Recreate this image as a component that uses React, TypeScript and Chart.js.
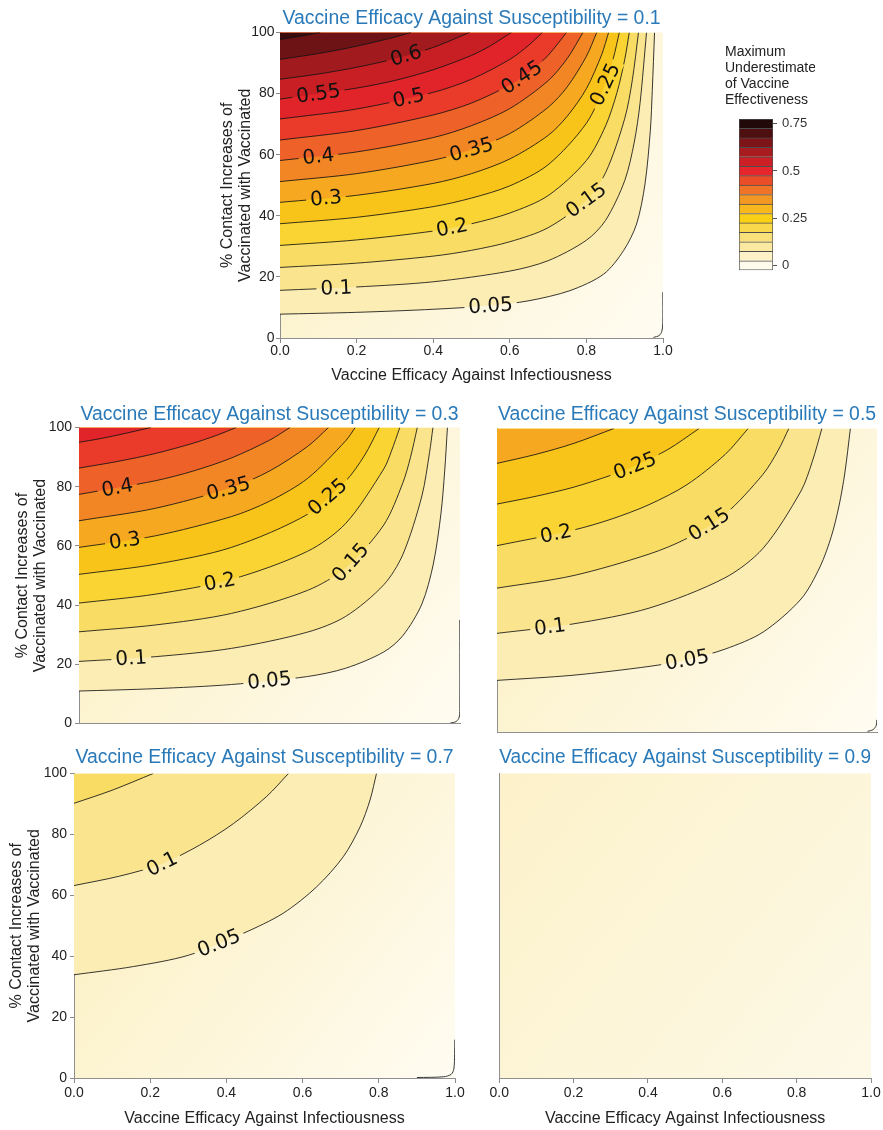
import React, { useEffect, useRef } from "react";
import { Chart, registerables } from "chart.js";

Chart.register(...registerables);
Chart.defaults.font.family = '"Liberation Sans", Arial, sans-serif';

type P = [number, number];
type Lab = [number, number, number];

// ---------- Panel: Vaccine Efficacy Against Susceptibility = 0.1 ----------
const levelsS1 = [0.05, 0.1, 0.15, 0.2, 0.25, 0.3, 0.35, 0.4, 0.45, 0.5, 0.55, 0.6, 0.65, 0.7];
const contoursS1: P[][] = [
  [[0, 7.8], [0.2, 8.4], [0.4, 9.4], [0.55, 10.6], [0.65, 12.2], [0.757, 15.5], [0.845, 20.9], [0.897, 28.6], [0.931, 37.3], [0.953, 50.4], [0.967, 68], [0.972, 81], [0.978, 100]],
  [[0, 15.6], [0.2, 16.7], [0.4, 18.4], [0.6, 21.9], [0.7, 25.3], [0.8, 32.0], [0.85, 38.5], [0.9, 51.5], [0.925, 64.1], [0.94, 76.8], [0.957, 100]],
  [[0, 23.1], [0.2, 24.5], [0.4, 26.8], [0.5, 28.7], [0.6, 31.5], [0.7, 36.1], [0.8, 45.2], [0.85, 54.1], [0.9, 71.8], [0.92, 84.5], [0.936, 100]],
  [[0, 30.3], [0.2, 32.1], [0.4, 35.0], [0.5, 37.4], [0.6, 40.9], [0.7, 46.6], [0.8, 58.1], [0.85, 69.4], [0.88, 80.4], [0.9, 91.1], [0.912, 100]],
  [[0, 37.4], [0.2, 39.5], [0.4, 43.0], [0.5, 45.8], [0.6, 49.8], [0.7, 56.7], [0.8, 70.3], [0.85, 83.4], [0.87, 91.4], [0.886, 100]],
  [[0, 44.4], [0.2, 46.7], [0.4, 50.6], [0.5, 53.8], [0.6, 58.6], [0.7, 66.3], [0.75, 72.6], [0.8, 81.6], [0.84, 92.8], [0.858, 100]],
  [[0, 51.2], [0.2, 53.8], [0.4, 58.2], [0.5, 61.7], [0.6, 66.9], [0.7, 75.5], [0.75, 82.2], [0.8, 92.2], [0.827, 100]],
  [[0, 58.1], [0.2, 60.9], [0.4, 65.6], [0.5, 69.5], [0.6, 75.1], [0.7, 84.2], [0.75, 91.5], [0.791, 100]],
  [[0, 64.8], [0.2, 67.9], [0.4, 73.0], [0.5, 76.9], [0.6, 82.8], [0.65, 86.9], [0.7, 92.5], [0.748, 100]],
  [[0, 71.7], [0.2, 74.95], [0.4, 80.4], [0.5, 84.7], [0.6, 91.2], [0.65, 95.9], [0.685, 100]],
  [[0, 78.2], [0.2, 81.8], [0.3, 84.3], [0.4, 87.8], [0.5, 92.5], [0.55, 95.7], [0.604, 100]],
  [[0, 84.7], [0.1, 86.4], [0.2, 88.6], [0.3, 91.4], [0.4, 95.1], [0.495, 100]],
  [[0, 91.2], [0.1, 93.1], [0.2, 95.5], [0.3, 98.5], [0.342, 100]],
  [[0, 97.7], [0.05, 98.7], [0.105, 100]],
];
const labelsS1: Lab[] = [
  [0.05, 0.55, 10.6], [0.1, 0.147, 16.2], [0.15, 0.8, 45.0], [0.2, 0.45, 35.6], [0.25, 0.848, 83],
  [0.3, 0.12, 45.8], [0.35, 0.5, 61.5], [0.4, 0.1, 60], [0.45, 0.63, 85.5], [0.5, 0.335, 79],
  [0.55, 0.1, 80.5], [0.6, 0.33, 92],
];
const edgeS1: P[] = [[0.975, 0.2], [0.99, 0.8], [0.997, 2.2], [0.9995, 5], [0.9995, 15]];

// ---------- Panel: Susceptibility = 0.3 ----------
const levelsS3 = [0.05, 0.1, 0.15, 0.2, 0.25, 0.3, 0.35, 0.4, 0.45, 0.5];
const contoursS3: P[][] = [
  [[0, 11.0], [0.2, 11.8], [0.4, 13.2], [0.6, 15.9], [0.7, 18.7], [0.8, 24.2], [0.85, 29.7], [0.9, 40.4], [0.93, 53.9], [0.95, 70.9], [0.96, 85.6], [0.967, 100]],
  [[0, 21.0], [0.2, 22.6], [0.4, 25.4], [0.6, 30.9], [0.7, 36.2], [0.8, 46.9], [0.85, 57.1], [0.9, 76.9], [0.92, 91.5], [0.929, 100]],
  [[0, 31.0], [0.2, 33.3], [0.4, 37.2], [0.6, 45.0], [0.7, 52.6], [0.8, 67.1], [0.85, 81.3], [0.87, 89.9], [0.888, 100]],
  [[0, 40.7], [0.2, 43.7], [0.4, 48.7], [0.6, 58.2], [0.7, 67.6], [0.8, 86.0], [0.82, 92.0], [0.842, 100]],
  [[0, 50.4], [0.2, 53.8], [0.4, 59.5], [0.6, 70.7], [0.7, 81.9], [0.75, 90.7], [0.788, 100]],
  [[0, 59.5], [0.2, 63.4], [0.4, 69.9], [0.5, 75.1], [0.6, 82.8], [0.7, 95.5], [0.725, 100]],
  [[0, 68.5], [0.2, 72.7], [0.4, 79.7], [0.5, 85.3], [0.6, 93.6], [0.655, 100]],
  [[0, 77.4], [0.2, 82.0], [0.3, 85.3], [0.4, 89.7], [0.5, 95.7], [0.554, 100]],
  [[0, 86.3], [0.1, 88.5], [0.2, 91.2], [0.3, 94.7], [0.36, 97.3], [0.413, 100]],
  [[0, 95.0], [0.05, 96.1], [0.1, 97.4], [0.189, 100]],
];
const labelsS3: Lab[] = [
  [0.05, 0.5, 14.2], [0.1, 0.137, 22.3], [0.15, 0.72, 53.5], [0.2, 0.37, 47.5], [0.25, 0.663, 75],
  [0.3, 0.12, 62], [0.35, 0.394, 78.5], [0.4, 0.1, 80],
];
const edgeS3: P[] = [[0.975, 0.2], [0.99, 0.7], [0.998, 2.2], [0.9995, 6], [0.9995, 35]];

// ---------- Panel: Susceptibility = 0.5 ----------
const levelsS5 = [0.05, 0.1, 0.15, 0.2, 0.25, 0.3];
const contoursS5: P[][] = [
  [[0, 17.0], [0.2, 18.7], [0.4, 21.6], [0.5, 23.8], [0.6, 27.3], [0.7, 32.9], [0.8, 43.8], [0.85, 54.4], [0.88, 64.5], [0.9, 74.5], [0.915, 85.0], [0.93, 100]],
  [[0, 32.5], [0.2, 35.6], [0.4, 40.8], [0.6, 50.8], [0.7, 60.5], [0.8, 79.4], [0.83, 89.2], [0.855, 100]],
  [[0, 47.4], [0.2, 51.5], [0.4, 58.6], [0.5, 63.8], [0.6, 71.7], [0.7, 84.9], [0.74, 92.8], [0.768, 100]],
  [[0, 61.4], [0.2, 66.5], [0.3, 70.1], [0.4, 74.9], [0.5, 81.5], [0.6, 91.4], [0.661, 100]],
  [[0, 75.1], [0.1, 77.6], [0.2, 80.6], [0.3, 84.6], [0.363, 87.7], [0.45, 93.1], [0.532, 100]],
  [[0, 88.5], [0.1, 91.4], [0.2, 95.0], [0.308, 100]],
];
const labelsS5: Lab[] = [
  [0.05, 0.5, 23.8], [0.1, 0.14, 34], [0.15, 0.56, 68], [0.2, 0.153, 66.5], [0.25, 0.363, 87.6],
];
const edgeS5: P[] = [[0.975, 0.2], [0.99, 0.8], [0.998, 2.2], [0.9995, 4]];

// ---------- Panel: Susceptibility = 0.7 ----------
const levelsS7 = [0.05, 0.1, 0.15];
const contoursS7: P[][] = [
  [[0, 33.9], [0.156, 36.6], [0.3, 40.3], [0.444, 47.5], [0.549, 54.1], [0.637, 62.8], [0.707, 72.7], [0.751, 82.5], [0.777, 91.3], [0.794, 100]],
  [[0, 63.2], [0.12, 66.3], [0.23, 70.3], [0.33, 76.5], [0.418, 83.5], [0.506, 92.5], [0.563, 100]],
  [[0, 90.2], [0.1, 94.5], [0.208, 100]],
];
const labelsS7: Lab[] = [[0.05, 0.383, 43.5], [0.1, 0.23, 70.5]];
const edgeS7: P[] = [[0.9, 0.15], [0.97, 0.4], [0.99, 1.2], [0.997, 3], [0.999, 8], [0.9995, 12.6]];

// ---------- Panel: Susceptibility = 0.9 (no contour reaches 0.05) ----------
const levelsS9: number[] = [];
const contoursS9: P[][] = [];
const labelsS9: Lab[] = [];

// ---------- Colour scale ----------
const bandLevels = [0.05, 0.1, 0.15, 0.2, 0.25, 0.3, 0.35, 0.4, 0.45, 0.5, 0.55, 0.6, 0.65, 0.7];
const bandFills = ['#fcedb5', '#fae58e', '#f9dc63', '#f9d432', '#f9c41a', '#f6a820', '#f28625', '#ee6128', '#e93a2a', '#e0242a', '#c81f24', '#a01a1e', '#6e1315', '#3a0c0d'];

const cbEdges = [-0.025, 0.025, 0.075, 0.125, 0.175, 0.225, 0.275, 0.325, 0.375, 0.425, 0.475, 0.525, 0.575, 0.625, 0.675, 0.725, 0.775];
const cbColors = ['#fffbec', '#fdf2c8', '#fbe9a2', '#f9e07a', '#f9d84c', '#fad017', '#f8b81d', '#f49824', '#f07427', '#eb4d29', '#e6262b', '#cd2026', '#a81b1f', '#7d1518', '#4e0f10', '#220909'];
const cbTicks = [0, 0.25, 0.5, 0.75];
const cbTitleLines = ['Maximum', 'Underestimate', 'of Vaccine', 'Effectiveness'];

const xTitle = 'Vaccine Efficacy Against Infectiousness';
const yTitle = ['% Contact Increases of', 'Vaccinated with Vaccinated'];

const CONTOUR_FONT = '20px "DejaVu Sans", sans-serif';

function bandFill(lv: number) {
  const i = bandLevels.findIndex((b) => Math.abs(b - lv) < 1e-9);
  return bandFills[i] || bandFills[bandFills.length - 1];
}

interface PanelSpec {
  title: string;
  levels: number[];
  contours: P[][];
  labels: Lab[];
  edge: P[] | null;
  left: number; top: number; width: number; height: number;
  yAxis: boolean; xAxis: boolean;
  yWidth: number; xHeight: number;
  pad: { left: number; right: number; top: number; bottom: number };
  titlePad: { top: number; bottom: number };
  yTitlePad: number; yTickPad: number; xTickPad: number; xTitlePad: number;
  base: [string, string];
}

function computeLabels(chart: any, spec: PanelSpec) {
  const xs = chart.scales.x, ys = chart.scales.y, ctx = chart.ctx;
  ctx.save();
  ctx.font = CONTOUR_FONT;
  const out = spec.labels.map(([lv, lx, ly]) => {
    const idx = spec.levels.findIndex((l) => Math.abs(l - lv) < 1e-9);
    const pts = spec.contours[idx].map(([x, y]) => [xs.getPixelForValue(x), ys.getPixelForValue(y)]);
    const px = xs.getPixelForValue(lx), py = ys.getPixelForValue(ly);
    let best = { d: Infinity, x: px, y: py, ang: 0 };
    for (let k = 0; k < pts.length - 1; k++) {
      const [ax, ay] = pts[k], [bx, by] = pts[k + 1];
      const dx = bx - ax, dy = by - ay, L2 = dx * dx + dy * dy;
      let t = L2 ? ((px - ax) * dx + (py - ay) * dy) / L2 : 0;
      t = Math.max(0, Math.min(1, t));
      const cx = ax + t * dx, cy = ay + t * dy;
      const d = (cx - px) ** 2 + (cy - py) ** 2;
      if (d < best.d) best = { d, x: cx, y: cy, ang: Math.atan2(dy, dx) };
    }
    let ang = best.ang;
    if (ang > Math.PI / 2) ang -= Math.PI;
    if (ang < -Math.PI / 2) ang += Math.PI;
    const text = String(lv);
    const w = ctx.measureText(text).width;
    return { x: best.x, y: best.y, ang, text, w };
  });
  ctx.restore();
  return out;
}

function makePanelConfig(spec: PanelSpec): any {
  const datasets: any[] = spec.levels.map((lv, i) => ({
    type: 'line',
    label: String(lv),
    data: spec.contours[i].map(([x, y]) => ({ x, y })),
    borderColor: '#141414',
    borderWidth: 0.85,
    backgroundColor: bandFill(lv),
    fill: 'end',
    pointRadius: 0,
    pointHoverRadius: 0,
    tension: 0.3,
    order: spec.levels.length - i + 1,
    contour: true,
  }));
  if (spec.edge) {
    datasets.push({
      type: 'line',
      label: 'edge',
      data: spec.edge.map(([x, y]) => ({ x, y })),
      borderColor: '#3a3a3a',
      borderWidth: 1,
      fill: false,
      pointRadius: 0,
      tension: 0.3,
      order: 0,
    });
  }

  const bgPlugin = {
    id: 'panelBg',
    beforeDraw(chart: any) {
      const { ctx, chartArea: a } = chart;
      const g = ctx.createLinearGradient(a.left, a.top, a.right, a.bottom);
      g.addColorStop(0, spec.base[0]);
      g.addColorStop(1, spec.base[1]);
      ctx.save();
      ctx.fillStyle = g;
      ctx.fillRect(a.left, a.top, a.right - a.left, a.bottom - a.top);
      ctx.restore();
    },
  };

  const labelPlugin = {
    id: 'contourLabels',
    beforeDatasetsDraw(chart: any) {
      chart.$contourLabels = computeLabels(chart, spec);
    },
    beforeDatasetDraw(chart: any, args: any) {
      const ds = chart.data.datasets[args.index];
      const labs = chart.$contourLabels || [];
      if (!ds.contour || !labs.length) return;
      const ctx = chart.ctx;
      ctx.save();
      ctx.beginPath();
      ctx.rect(0, 0, chart.width, chart.height);
      for (const L of labs) {
        const hw = L.w / 2 + 4, hh = 9;
        const c = Math.cos(L.ang), s = Math.sin(L.ang);
        const corners = [[-hw, -hh], [hw, -hh], [hw, hh], [-hw, hh]].map(([u, v]) => [L.x + u * c - v * s, L.y + u * s + v * c]);
        ctx.moveTo(corners[0][0], corners[0][1]);
        for (let k = 1; k < 4; k++) ctx.lineTo(corners[k][0], corners[k][1]);
        ctx.closePath();
      }
      ctx.clip('evenodd');
      chart.$clipped = true;
    },
    afterDatasetDraw(chart: any) {
      if (chart.$clipped) {
        chart.ctx.restore();
        chart.$clipped = false;
      }
    },
    afterDatasetsDraw(chart: any) {
      const ctx = chart.ctx;
      for (const L of chart.$contourLabels || []) {
        ctx.save();
        ctx.translate(L.x, L.y);
        ctx.rotate(L.ang);
        ctx.font = CONTOUR_FONT;
        ctx.fillStyle = '#111';
        ctx.textAlign = 'center';
        ctx.textBaseline = 'middle';
        ctx.fillText(L.text, 0, 1);
        ctx.restore();
      }
    },
  };

  return {
    type: 'line',
    data: { datasets },
    options: {
      responsive: false,
      animation: false,
      devicePixelRatio: 1,
      events: [],
      layout: { padding: spec.pad, autoPadding: false },
      plugins: {
        legend: { display: false },
        tooltip: { enabled: false },
        filler: { drawTime: 'beforeDatasetsDraw', propagate: false },
        title: {
          display: true,
          text: spec.title,
          color: '#2a7ab9',
          font: { size: 19.4, weight: 'normal', lineHeight: 1.2 },
          padding: spec.titlePad,
          fullSize: false,
        },
      },
      scales: {
        x: {
          type: 'linear',
          min: 0,
          max: 1,
          ticks: {
            display: spec.xAxis,
            stepSize: 0.2,
            callback: (v: any) => Number(v).toFixed(1),
            font: { size: 14 },
            color: '#222',
            padding: spec.xTickPad,
            maxRotation: 0,
            autoSkip: false,
          },
          grid: { display: spec.xAxis, drawOnChartArea: false, drawTicks: true, tickLength: 5, color: '#8a8a8a' },
          border: { display: true, color: '#8f8f8f', width: 1 },
          title: {
            display: spec.xAxis,
            text: xTitle,
            font: { size: 16, lineHeight: 1.2 },
            color: '#222',
            padding: { top: 0, bottom: spec.xTitlePad },
          },
          afterFit: (s: any) => { s.height = spec.xHeight; },
        },
        y: {
          type: 'linear',
          min: 0,
          max: 100,
          ticks: { display: spec.yAxis, stepSize: 20, font: { size: 14 }, color: '#222', padding: spec.yTickPad },
          grid: { display: spec.yAxis, drawOnChartArea: false, drawTicks: true, tickLength: 4, color: '#8a8a8a' },
          border: { display: true, color: '#8f8f8f', width: 1 },
          title: {
            display: spec.yAxis,
            text: yTitle,
            font: { size: 16, lineHeight: 1.125 },
            color: '#222',
            padding: { top: spec.yTitlePad, bottom: 0 },
          },
          afterFit: (s: any) => { s.width = spec.yWidth; },
        },
      },
    },
    plugins: [bgPlugin, labelPlugin],
  };
}

function makeColorbarConfig(): any {
  const titlePlugin = {
    id: 'cbTitle',
    afterDraw(chart: any) {
      const { ctx, chartArea } = chart;
      ctx.save();
      ctx.font = '14px "Liberation Sans", Arial, sans-serif';
      ctx.fillStyle = '#222';
      ctx.textAlign = 'left';
      ctx.textBaseline = 'middle';
      cbTitleLines.forEach((t, i) => ctx.fillText(t, chartArea.left - 14, chartArea.top - 67 + i * 16));
      ctx.restore();
    },
  };
  return {
    type: 'bar',
    data: {
      labels: [''],
      datasets: cbColors.map((c, i) => ({
        data: [[cbEdges[i], cbEdges[i + 1]]],
        backgroundColor: c,
        borderColor: '#4d4d4d',
        borderWidth: 1,
        borderSkipped: i === 0 ? false : 'start',
        grouped: false,
        barPercentage: 1,
        categoryPercentage: 1,
      })),
    },
    options: {
      responsive: false,
      animation: false,
      devicePixelRatio: 1,
      events: [],
      layout: { padding: { left: 19, right: 0, top: 79, bottom: 6 }, autoPadding: false },
      plugins: { legend: { display: false }, tooltip: { enabled: false } },
      scales: {
        x: { display: false },
        y: {
          position: 'right',
          min: -0.025,
          max: 0.775,
          afterBuildTicks: (s: any) => { s.ticks = cbTicks.map((v) => ({ value: v })); },
          ticks: { callback: (v: any) => String(v), font: { size: 13 }, color: '#333', padding: 5 },
          grid: { drawOnChartArea: false, drawTicks: true, tickLength: 4, color: '#555' },
          border: { display: false },
          afterFit: (s: any) => { s.width = 42; },
        },
      },
    },
    plugins: [titlePlugin],
  };
}

function ChartCanvas(props: { left: number; top: number; width: number; height: number; make: () => any }) {
  const ref = useRef<HTMLCanvasElement | null>(null);
  useEffect(() => {
    const chart = new Chart(ref.current as HTMLCanvasElement, props.make());
    return () => chart.destroy();
  }, []);
  return (
    <canvas
      ref={ref}
      width={props.width}
      height={props.height}
      style={{ position: 'absolute', left: props.left, top: props.top, width: props.width, height: props.height }}
    />
  );
}

const BASE: [string, string] = ['#fbeebb', '#fffcf2'];
const BASE9: [string, string] = ['#fcf1c9', '#fdf9e7'];

const panels: PanelSpec[] = [
  {
    title: 'Vaccine Efficacy Against Susceptibility = 0.1',
    levels: levelsS1, contours: contoursS1, labels: labelsS1, edge: edgeS1,
    left: 205, top: 0, width: 470, height: 386,
    yAxis: true, xAxis: true, yWidth: 75, xHeight: 48,
    pad: { left: 0, right: 12, top: 0, bottom: 0 },
    titlePad: { top: 7, bottom: 2.2 },
    yTitlePad: 13.5, yTickPad: 1.5, xTickPad: 0, xTitlePad: 1,
    base: BASE,
  },
  {
    title: 'Vaccine Efficacy Against Susceptibility = 0.3',
    levels: levelsS3, contours: contoursS3, labels: labelsS3, edge: edgeS3,
    left: 4, top: 400, width: 462, height: 335,
    yAxis: true, xAxis: false, yWidth: 75, xHeight: 0,
    pad: { left: 0, right: 6, top: 0, bottom: 3 },
    titlePad: { top: 2.6, bottom: 1.6 },
    yTitlePad: 9.5, yTickPad: 3, xTickPad: 0, xTitlePad: 0,
    base: BASE,
  },
  {
    title: 'Vaccine Efficacy Against Susceptibility = 0.5',
    levels: levelsS5, contours: contoursS5, labels: labelsS5, edge: edgeS5,
    left: 494, top: 400, width: 387, height: 335,
    yAxis: false, xAxis: false, yWidth: 0, xHeight: 0,
    pad: { left: 3, right: 4, top: 0, bottom: 3 },
    titlePad: { top: 2.6, bottom: 2.6 },
    yTitlePad: 0, yTickPad: 0, xTickPad: 0, xTitlePad: 0,
    base: BASE,
  },
  {
    title: 'Vaccine Efficacy Against Susceptibility = 0.7',
    levels: levelsS7, contours: contoursS7, labels: labelsS7, edge: edgeS7,
    left: 2, top: 743, width: 465, height: 387,
    yAxis: true, xAxis: true, yWidth: 72, xHeight: 52,
    pad: { left: 0, right: 12, top: 0, bottom: 0 },
    titlePad: { top: 2.9, bottom: 4.3 },
    yTitlePad: 5.7, yTickPad: 3, xTickPad: 1.5, xTitlePad: 1.4,
    base: BASE,
  },
  {
    title: 'Vaccine Efficacy Against Susceptibility = 0.9',
    levels: levelsS9, contours: contoursS9, labels: labelsS9, edge: null,
    left: 488, top: 743, width: 395, height: 387,
    yAxis: false, xAxis: true, yWidth: 0, xHeight: 52,
    pad: { left: 3, right: 12, top: 0, bottom: 0 },
    titlePad: { top: 2.9, bottom: 4.3 },
    yTitlePad: 0, yTickPad: 0, xTickPad: 1.5, xTitlePad: 1.4,
    base: BASE9,
  },
];

export default function App() {
  return (
    <div style={{ position: 'absolute', left: 0, top: 0, width: 883, height: 1130, background: '#ffffff', overflow: 'hidden' }}>
      {panels.map((p, i) => (
        <ChartCanvas key={i} left={p.left} top={p.top} width={p.width} height={p.height} make={() => makePanelConfig(p)} />
      ))}
      <ChartCanvas left={720} top={40} width={95} height={243} make={makeColorbarConfig} />
    </div>
  );
}
